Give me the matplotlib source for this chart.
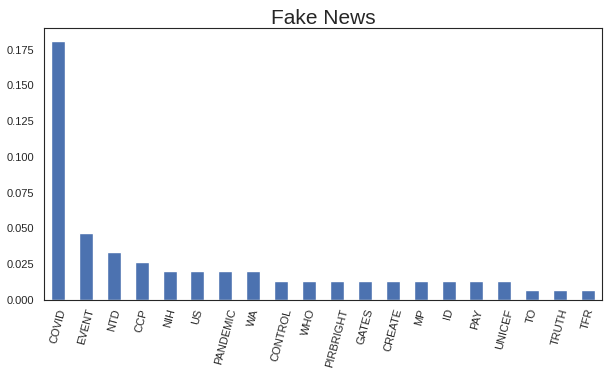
import matplotlib
matplotlib.use("Agg")
import matplotlib.pyplot as plt
import seaborn as sns
import pandas as pd

words = ["COVID", "EVENT", "NTD", "CCP", "NIH", "US", "PANDEMIC", "WA",
         "CONTROL", "WHO", "PIRBRIGHT", "GATES", "CREATE", "MP", "ID",
         "PAY", "UNICEF", "TO", "TRUTH", "TFR"]
freq = [0.181, 0.0467, 0.0333, 0.0267, 0.02, 0.02, 0.02, 0.02,
        0.0133, 0.0133, 0.0133, 0.0133, 0.0133, 0.0133, 0.0133,
        0.0133, 0.0133, 0.0067, 0.0067, 0.0067]

sns.set_style("white")
plt.rcParams['font.family'] = ['Liberation Sans', 'DejaVu Sans']

s = pd.Series(freq, index=words)

fig = plt.figure(figsize=(6.09, 3.77), dpi=100)
ax = fig.add_axes([44 / 609, 77 / 377, 558 / 609, 272 / 377])
s.plot(kind="bar", ax=ax, color="#4c72b0", width=0.5)
ax.set_title("Fake News", fontsize=15, pad=3)
ax.set_xticklabels(words, rotation=75, fontsize=8)
ax.tick_params(axis="y", labelsize=8)
ax.tick_params(axis="x", pad=2)
for sp in ax.spines.values():
    sp.set_color("#262626")
fig.savefig("out.png", dpi=100)
